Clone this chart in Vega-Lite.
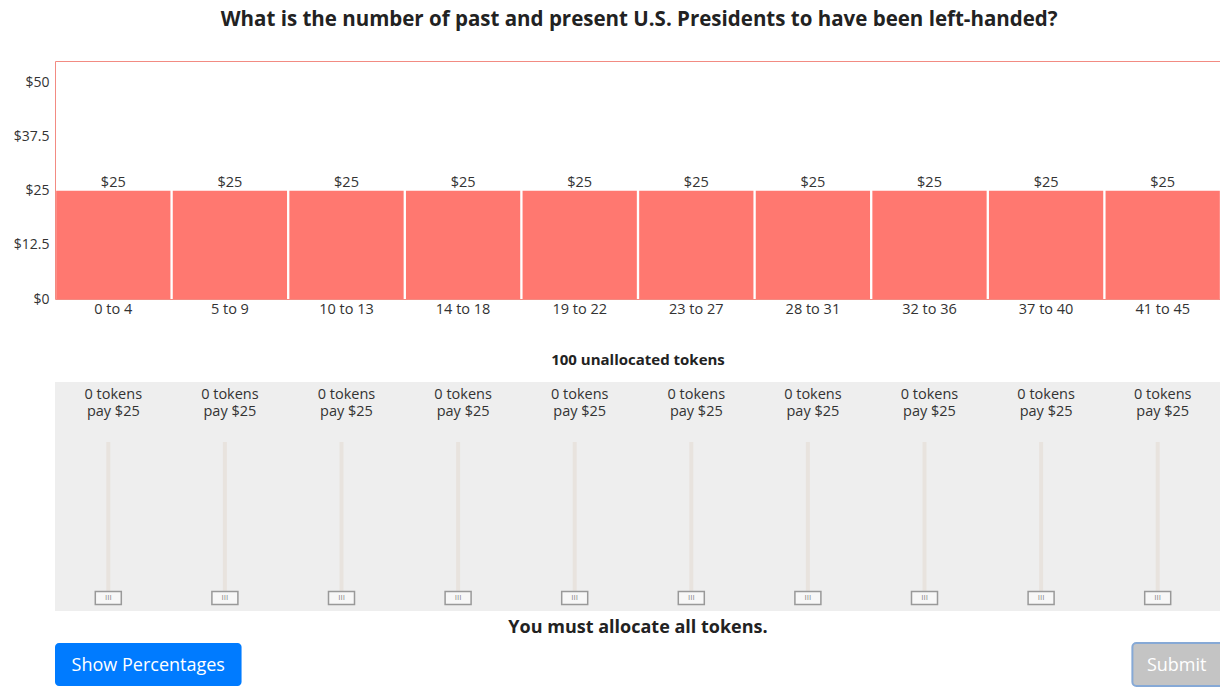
{
  "$schema": "https://vega.github.io/schema/vega-lite/v6.json",
  "padding": {"left": 0, "right": 0, "top": 10, "bottom": 0},
  "autosize": {"type": "pad"},
  "title": {"text": "What is the number of past and present U.S. Presidents to have been left-handed?", "fontSize": 20.5, "font": "Open Sans", "fontWeight": "bold", "color": "#222", "anchor": "middle", "offset": 30, "dx": 25},
  "config": {"font": "Open Sans", "view": {"stroke": null}},
  "datasets": {
    "bins": [
      {"bin": "0 to 4", "tokens": 0, "pay": 25},
      {"bin": "5 to 9", "tokens": 0, "pay": 25},
      {"bin": "10 to 13", "tokens": 0, "pay": 25},
      {"bin": "14 to 18", "tokens": 0, "pay": 25},
      {"bin": "19 to 22", "tokens": 0, "pay": 25},
      {"bin": "23 to 27", "tokens": 0, "pay": 25},
      {"bin": "28 to 31", "tokens": 0, "pay": 25},
      {"bin": "32 to 36", "tokens": 0, "pay": 25},
      {"bin": "37 to 40", "tokens": 0, "pay": 25},
      {"bin": "41 to 45", "tokens": 0, "pay": 25}
    ]
  },
  "spacing": 8,
  "vconcat": [
    {
      "width": 1166,
      "height": 238,
      "data": {"name": "bins"},
      "view": {"stroke": "#f28b82", "strokeWidth": 1},
      "encoding": {
        "x": {"field": "bin", "type": "nominal", "sort": null,
          "scale": {"paddingInner": 0.02, "paddingOuter": 0.01},
          "axis": {"title": null, "labelAngle": 0, "ticks": false, "domain": false, "labelPadding": 3, "labelFontSize": 14.5, "labelColor": "#333", "minExtent": 45, "maxExtent": 45}}
      },
      "layer": [
        {
          "mark": {"type": "bar", "color": "#ff7870"},
          "encoding": {
            "y": {"field": "pay", "type": "quantitative",
              "scale": {"domain": [0, 55], "nice": false},
              "axis": {"title": null, "values": [0, 12.5, 25, 37.5, 50], "labelExpr": "'$' + datum.value", "ticks": false, "tickSize": 0, "domain": false, "grid": false, "labelPadding": 6, "labelFontSize": 14, "labelColor": "#333", "minExtent": 54, "maxExtent": 54}}
          }
        },
        {
          "mark": {"type": "text", "dy": -1, "baseline": "bottom", "fontSize": 14.5, "color": "#333"},
          "encoding": {
            "y": {"field": "pay", "type": "quantitative"},
            "text": {"field": "pay", "type": "quantitative", "format": "$d"}
          }
        }
      ]
    },
    {
      "width": 1166,
      "height": 229,
      "title": {"text": "100 unallocated tokens", "fontSize": 15, "fontWeight": "bold", "color": "#222", "offset": 14, "anchor": "middle"},
      "view": {"fill": "#eeeeee", "stroke": null},
      "data": {"name": "bins"},
      "transform": [
        {"calculate": "datum.tokens + ' tokens'", "as": "tokLabel"},
        {"calculate": "'pay $' + datum.pay", "as": "payLabel"}
      ],
      "encoding": {
        "x": {"field": "bin", "type": "nominal", "sort": null,
          "scale": {"paddingInner": 0.02, "paddingOuter": 0.01}, "axis": null}
      },
      "layer": [
        {
          "mark": {"type": "rule", "strokeWidth": 4, "color": "#e8e3de", "xOffset": -5},
          "encoding": {
            "y": {"datum": 0, "type": "quantitative", "scale": {"domain": [-12.67, 140], "nice": false, "zero": false}, "axis": null},
            "y2": {"datum": 100}
          }
        },
        {
          "mark": {"type": "point", "shape": "M-1,-0.5H1V0.5H-1Z", "size": 676, "filled": true, "fill": "#f7f7f7", "stroke": "#999999", "strokeWidth": 1.5, "opacity": 1, "xOffset": -5, "yOffset": 6},
          "encoding": {"y": {"field": "tokens", "type": "quantitative"}}
        },
        {
          "mark": {"type": "text", "text": "III", "fontSize": 8, "color": "#888", "xOffset": -5, "yOffset": 6, "baseline": "middle"},
          "encoding": {"y": {"field": "tokens", "type": "quantitative"}}
        },
        {
          "mark": {"type": "text", "fontSize": 14.5, "color": "#333", "baseline": "middle"},
          "encoding": {"y": {"datum": 131.3, "type": "quantitative"}, "text": {"field": "tokLabel"}}
        },
        {
          "mark": {"type": "text", "fontSize": 14.5, "color": "#333", "baseline": "middle"},
          "encoding": {"y": {"datum": 120, "type": "quantitative"}, "text": {"field": "payLabel"}}
        }
      ]
    },
    {
      "width": 1166,
      "height": 43,
      "title": {"text": "You must allocate all tokens.", "fontSize": 18, "fontWeight": "bold", "color": "#222", "offset": 5, "anchor": "middle"},
      "layer": [
        {
          "data": {"values": [{"label": "Show Percentages"}]},
          "mark": {"type": "rect", "color": "#007bff", "cornerRadius": 4},
          "encoding": {
            "x": {"datum": 0, "type": "quantitative", "scale": {"domain": [0, 10], "nice": false, "zero": false}, "axis": null},
            "x2": {"datum": 1.6}
          }
        },
        {
          "data": {"values": [{"label": "Show Percentages"}]},
          "mark": {"type": "text", "color": "white", "fontSize": 18, "dy": 1},
          "encoding": {"x": {"datum": 0.8, "type": "quantitative"}, "text": {"field": "label"}}
        },
        {
          "data": {"values": [{"label": "Submit"}]},
          "mark": {"type": "rect", "color": "#c4c4c4", "stroke": "#86a9d6", "strokeWidth": 2, "cornerRadius": 4},
          "encoding": {
            "x": {"datum": 9.24, "type": "quantitative"},
            "x2": {"datum": 10.05}
          }
        },
        {
          "data": {"values": [{"label": "Submit"}]},
          "mark": {"type": "text", "color": "white", "fontSize": 18, "dy": 1},
          "encoding": {"x": {"datum": 9.62, "type": "quantitative"}, "text": {"field": "label"}}
        }
      ]
    }
  ]
}
